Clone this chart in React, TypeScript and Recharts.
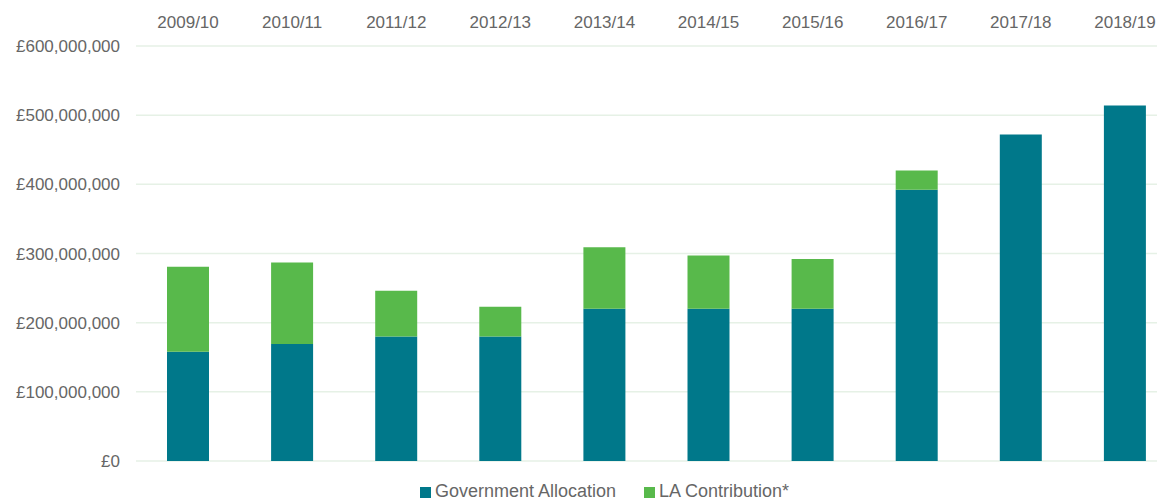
import React from "react";
import { BarChart, Bar, XAxis, YAxis, CartesianGrid, Legend } from "recharts";

const years = ["2009/10", "2010/11", "2011/12", "2012/13", "2013/14", "2014/15", "2015/16", "2016/17", "2017/18", "2018/19"];
const governmentAllocation = [158000000, 169000000, 180000000, 180000000, 220000000, 220000000, 220000000, 392000000, 472000000, 514000000];
const laContribution = [123000000, 118000000, 66000000, 43000000, 89000000, 77000000, 72000000, 28000000, 0, 0];
const yTicks = [0, 100000000, 200000000, 300000000, 400000000, 500000000, 600000000];

const data = years.map((y, i) => ({
  year: y,
  gov: governmentAllocation[i],
  la: laContribution[i],
}));

const fmt = (v: number) => "£" + v.toLocaleString("en-GB");
const textColor = "#666666";
const font = "'Liberation Sans', Arial, sans-serif";

export default function App() {
  return (
    <div style={{ marginLeft: -8, marginTop: -8, width: 1165, height: 500, overflow: "hidden", fontFamily: font }}>
      <BarChart
        width={1180}
        height={500}
        data={data}
        margin={{ top: 0, right: 3, bottom: 9, left: 0 }}
        barSize={42}
      >
        <CartesianGrid vertical={false} stroke="#E6F1E6" strokeWidth={1.5} />
        <XAxis
          dataKey="year"
          orientation="top"
          height={46}
          axisLine={false}
          tickLine={false}
          tickSize={0}
          tickMargin={18}
          tick={{ fill: textColor, fontSize: 17, fontFamily: font }}
        />
        <YAxis
          width={136}
          domain={[0, 600000000]}
          ticks={yTicks}
          tickFormatter={fmt}
          axisLine={false}
          tickLine={false}
          tickSize={0}
          tickMargin={16}
          tick={{ fill: textColor, fontSize: 17, fontFamily: font }}
        />
        <Legend
          verticalAlign="bottom"
          height={30}
          iconType="square"
          iconSize={11}
          wrapperStyle={{ fontSize: 18, fontFamily: font, bottom: -11, left: 30, lineHeight: "20px" }}
          formatter={(value: string) => <span style={{ color: textColor, marginRight: 18 }}>{value}</span>}
        />
        <Bar dataKey="gov" name="Government Allocation" stackId="a" fill="#00788A" isAnimationActive={false} />
        <Bar dataKey="la" name="LA Contribution*" stackId="a" fill="#58B94B" isAnimationActive={false} />
      </BarChart>
    </div>
  );
}
